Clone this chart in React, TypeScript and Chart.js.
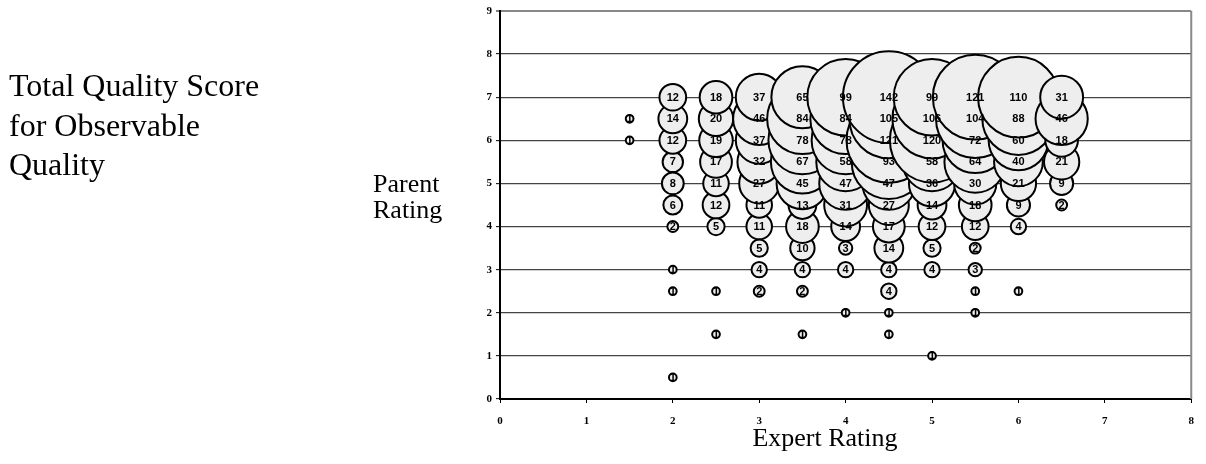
import React, { useEffect, useRef } from "react";
import { Chart, registerables } from "chart.js";

Chart.register(...registerables);

// Expert rating (x), parent rating (y) and number of cases (bubble label / size)
const expertRating = [
  1.5, 1.5,
  2, 2, 2, 2, 2, 2, 2, 2, 2, 2,
  2.5, 2.5, 2.5, 2.5, 2.5, 2.5, 2.5, 2.5, 2.5,
  3, 3, 3, 3, 3, 3, 3, 3, 3, 3,
  3.5, 3.5, 3.5, 3.5, 3.5, 3.5, 3.5, 3.5, 3.5, 3.5, 3.5,
  4, 4, 4, 4, 4, 4, 4, 4, 4, 4,
  4.5, 4.5, 4.5, 4.5, 4.5, 4.5, 4.5, 4.5, 4.5, 4.5, 4.5, 4.5,
  5, 5, 5, 5, 5, 5, 5, 5, 5, 5,
  5.5, 5.5, 5.5, 5.5, 5.5, 5.5, 5.5, 5.5, 5.5, 5.5, 5.5,
  6, 6, 6, 6, 6, 6, 6, 6,
  6.5, 6.5, 6.5, 6.5, 6.5, 6.5,
];
const parentRating = [
  6, 6.5,
  0.5, 2.5, 3, 4, 4.5, 5, 5.5, 6, 6.5, 7,
  1.5, 2.5, 4, 4.5, 5, 5.5, 6, 6.5, 7,
  2.5, 3, 3.5, 4, 4.5, 5, 5.5, 6, 6.5, 7,
  1.5, 2.5, 3, 3.5, 4, 4.5, 5, 5.5, 6, 6.5, 7,
  2, 3, 3.5, 4, 4.5, 5, 5.5, 6, 6.5, 7,
  1.5, 2, 2.5, 3, 3.5, 4, 4.5, 5, 5.5, 6, 6.5, 7,
  1, 3, 3.5, 4, 4.5, 5, 5.5, 6, 6.5, 7,
  2, 2.5, 3, 3.5, 4, 4.5, 5, 5.5, 6, 6.5, 7,
  2.5, 4, 4.5, 5, 5.5, 6, 6.5, 7,
  4.5, 5, 5.5, 6, 6.5, 7,
];
const caseCounts = [
  1, 1,
  1, 1, 1, 2, 6, 8, 7, 12, 14, 12,
  1, 1, 5, 12, 11, 17, 19, 20, 18,
  2, 4, 5, 11, 11, 27, 32, 37, 46, 37,
  1, 2, 4, 10, 18, 13, 45, 67, 78, 84, 65,
  1, 4, 3, 14, 31, 47, 58, 78, 84, 99,
  1, 1, 4, 4, 14, 17, 27, 47, 93, 121, 105, 142,
  1, 4, 5, 12, 14, 36, 58, 120, 106, 99,
  1, 1, 3, 2, 12, 18, 30, 64, 72, 104, 121,
  1, 4, 9, 21, 40, 60, 88, 110,
  2, 9, 21, 18, 46, 31,
];

const xTickLabels = ["0", "1", "2", "3", "4", "5", "6", "7", "8"];
const yTickLabels = ["0", "1", "2", "3", "4", "5", "6", "7", "8", "9"];

const titleLines = ["Total Quality Score", "for Observable", "Quality"];
const yTitleLines = ["Parent", "Rating"];
const xTitle = "Expert Rating";

const BUBBLE_SCALE = 3.85;

const bubbleLabelPlugin = {
  id: "bubbleLabels",
  afterDatasetsDraw(chart: any) {
    const ctx = chart.ctx;
    const meta = chart.getDatasetMeta(0);
    ctx.save();
    ctx.font = 'bold 11px "Liberation Sans", Arial, sans-serif';
    ctx.fillStyle = "#000";
    ctx.textAlign = "center";
    ctx.textBaseline = "middle";
    meta.data.forEach((el: any, i: number) => {
      ctx.fillText(String(caseCounts[i]), el.x, el.y + 0.5);
    });
    ctx.restore();
  },
};

const frameRightPlugin = {
  id: "frameRight",
  beforeDatasetsDraw(chart: any) {
    const { ctx, chartArea } = chart;
    ctx.save();
    ctx.strokeStyle = "#888";
    ctx.lineWidth = 2;
    ctx.beginPath();
    ctx.moveTo(chartArea.right, chartArea.top);
    ctx.lineTo(chartArea.right, chartArea.bottom);
    ctx.stroke();
    ctx.restore();
  },
};

export default function App() {
  const canvasRef = useRef<HTMLCanvasElement | null>(null);

  useEffect(() => {
    if (!canvasRef.current) return;
    const points = expertRating.map((x, i) => ({
      x,
      y: parentRating[i],
      r: BUBBLE_SCALE * Math.sqrt(caseCounts[i]),
    }));
    const tickFont = { family: '"Liberation Serif", "Times New Roman", serif', size: 11, weight: "bold" as const };
    const chart = new Chart(canvasRef.current, {
      type: "bubble",
      data: {
        datasets: [
          {
            data: points,
            backgroundColor: "#eeeeee",
            borderColor: "#000000",
            borderWidth: 2,
            hoverBorderWidth: 2,
            hoverRadius: 0,
            clip: false,
          } as any,
        ],
      },
      plugins: [bubbleLabelPlugin, frameRightPlugin],
      options: {
        responsive: false,
        animation: false,
        devicePixelRatio: 1,
        events: [],
        layout: {
          autoPadding: false,
          padding: { left: 440, right: 12, top: 11, bottom: 0 },
        },
        plugins: {
          legend: { display: false },
          tooltip: { enabled: false },
          title: { display: false },
        },
        scales: {
          x: {
            type: "linear",
            min: 0,
            max: 8,
            afterFit: (scale: any) => {
              scale.height = 65;
            },
            afterBuildTicks: (scale: any) => {
              scale.ticks = xTickLabels.map((t) => ({ value: Number(t) }));
            },
            ticks: {
              stepSize: 1,
              color: "#000",
              font: tickFont,
              padding: 12,
              maxRotation: 0,
              callback: (v: any) => xTickLabels[Number(v)] ?? "",
            },
            grid: {
              drawOnChartArea: false,
              drawTicks: true,
              tickLength: 4,
              tickColor: "#000",
              tickWidth: 1,
            },
            border: { display: true, color: "#000", width: 2 },
          },
          y: {
            type: "linear",
            min: 0,
            max: 9,
            afterFit: (scale: any) => {
              scale.width = 60;
            },
            afterBuildTicks: (scale: any) => {
              scale.ticks = yTickLabels.map((t) => ({ value: Number(t) }));
            },
            ticks: {
              stepSize: 1,
              color: "#000",
              font: tickFont,
              padding: 4,
              callback: (v: any) => yTickLabels[Number(v)] ?? "",
            },
            grid: {
              drawOnChartArea: true,
              drawTicks: true,
              tickLength: 4,
              tickColor: "#000",
              tickWidth: 1,
              color: (c: any) => (c.tick && c.tick.value === 9 ? "#888" : "#444"),
              lineWidth: (c: any) => (c.tick && c.tick.value === 9 ? 2 : 1.3),
            },
            border: { display: true, color: "#000", width: 2 },
          },
        },
      } as any,
    });
    return () => chart.destroy();
  }, []);

  const serif = '"Liberation Serif", "Times New Roman", serif';

  return (
    <div
      style={{
        position: "absolute",
        left: 0,
        top: 0,
        width: 1206,
        height: 464,
        background: "#fff",
        overflow: "hidden",
      }}
    >
      <canvas ref={canvasRef} width={1206} height={464} style={{ position: "absolute", left: 0, top: 0 }} />
      <div
        style={{
          position: "absolute",
          left: 9,
          top: 66,
          fontFamily: serif,
          fontSize: 32,
          lineHeight: "39.5px",
          color: "#000",
          whiteSpace: "nowrap",
        }}
      >
        {titleLines.map((l) => (
          <div key={l}>{l}</div>
        ))}
      </div>
      <div
        style={{
          position: "absolute",
          left: 373,
          top: 171,
          fontFamily: serif,
          fontSize: 26,
          lineHeight: "26px",
          color: "#000",
          whiteSpace: "nowrap",
        }}
      >
        {yTitleLines.map((l) => (
          <div key={l}>{l}</div>
        ))}
      </div>
      <div
        style={{
          position: "absolute",
          left: 825,
          top: 424,
          transform: "translateX(-50%)",
          fontFamily: serif,
          fontSize: 26,
          lineHeight: "28px",
          color: "#000",
          whiteSpace: "nowrap",
        }}
      >
        {xTitle}
      </div>
    </div>
  );
}
